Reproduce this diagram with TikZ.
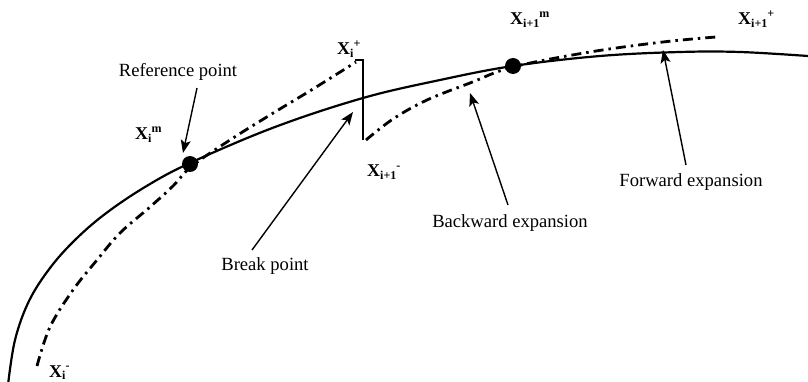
\documentclass[tikz,border=0pt]{standalone}
\usepackage{fontspec}
\setmainfont{Liberation Serif}
\usetikzlibrary{arrows.meta}
\newcommand{\xlab}[2]{X\raisebox{-2.5pt}{\fontsize{12}{12}\selectfont #1}\raisebox{7.5pt}{\fontsize{12}{12}\selectfont #2}}
\tikzset{
  solidcurve/.style={line width=2.2pt},
  dashdotcurve/.style={line width=2.8pt, dash pattern=on 10pt off 5pt on 2.5pt off 5pt},
  arr/.style={line width=1.4pt, -{Stealth[length=13pt,width=10pt,inset=3pt]}},
  txt/.style={font=\fontsize{18.6}{20}\selectfont, inner sep=0pt, anchor=base},
  xl/.style={font=\fontsize{18}{20}\selectfont\bfseries, inner sep=0pt, anchor=base west},
  bigdot/.style={circle, fill=black, minimum size=16pt, inner sep=0pt},
}
\begin{document}
\begin{tikzpicture}[x=1pt,y=-1pt]
\useasboundingbox (0,0) rectangle (808,382);
% solid curve
\draw[solidcurve] plot[smooth, tension=0.6] coordinates {(8,385) (15,340) (29,301) (50,268) (75,240) (105,214) (145,187) (190,163) (275,127) (363,98) (440,80) (513,66) (600,56) (680,52) (740,52) (808,56)};
% dash-dot curve 1
\draw[dashdotcurve] plot[smooth, tension=0.6] coordinates {(37,366) (50,327) (73,290) (97,260) (120,233) (150,207) (173,186) (192,166) (230,140) (270,115) (313,89) (356,62)};
% dash-dot curve 2
\draw[dashdotcurve] plot[smooth, tension=0.6] coordinates {(366,140) (393,119) (427,100) (470,83) (513,67) (590,52) (663,42) (716,37)};
% break bracket
\coordinate (brtl) at (355,60);
\coordinate (brtr) at (363,60);
\coordinate (brb) at (363,140);
\draw[line width=1.6pt] (brtl) -- (brtr) -- (brb);
% dots
\node[bigdot] (dotA) at (190,164) {};
\node[bigdot] (dotB) at (513,66) {};
% text labels
\node[txt] (reflab) at (178,77) {Reference point};
\node[txt] (brklab) at (265,270) {Break point};
\node[txt] (bwdlab) at (510,227) {Backward expansion};
\node[txt] (fwdlab) at (691,187) {Forward expansion};
% X labels
\node[xl] (xip) at (337,55) {\xlab{i}{+}};
\node[xl] (xi1m) at (510,25) {\xlab{i+1}{m}};
\node[xl] (xi1p) at (738,25) {\xlab{i+1}{+}};
\node[xl] (xim) at (135,140) {\xlab{i}{m}};
\node[xl] (xi1n) at (367,177) {\xlab{i+1}{-}};
\node[xl] (xin) at (49,377) {\xlab{i}{-}};
% arrows
\coordinate (refs) at (197,88);
\coordinate (reft) at (183,153);
\coordinate (brks) at (252,250);
\coordinate (brkt) at (353,112);
\coordinate (bwds) at (508,205);
\coordinate (bwdt) at (470,93);
\coordinate (fwds) at (686,165);
\coordinate (fwdt) at (663,50);
\draw[arr] (refs) -- (reft);
\draw[arr] (brks) -- (brkt);
\draw[arr] (bwds) -- (bwdt);
\draw[arr] (fwds) -- (fwdt);
\end{tikzpicture}
\end{document}
